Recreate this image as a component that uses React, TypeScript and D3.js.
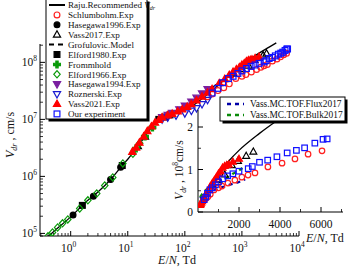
import * as d3 from "d3";

// ---- data (E/N in Td, drift velocity in cm/s) ----
const rajuE = [0.3, 0.5, 1, 2, 3, 5, 8, 10, 15, 20, 30, 40, 60, 80, 100, 150, 200, 300, 500, 700, 1000, 1500, 2000, 3000, 4000];
const rajuV = [6.8e4, 1.07e5, 1.95e5, 3.8e5, 5.3e5, 8.8e5, 1.55e6, 2.0e6, 3.4e6, 5.0e6, 8.5e6, 1.05e7, 1.2e7, 1.35e7, 1.5e7, 1.85e7, 2.3e7, 3.2e7, 5.0e7, 6.6e7, 9.0e7, 1.2e8, 1.45e8, 1.85e8, 2.2e8];

const grofE = [100, 150, 200, 300, 450, 700];
const grofV = [1.6e7, 2.05e7, 2.6e7, 3.6e7, 5.0e7, 6.8e7];

const schlumE = [250, 300, 380, 480, 600, 780, 1000, 1170, 1460, 1800, 2140, 2440, 2780, 3410, 4100, 4730, 5370, 6050];
const schlumV = [2.5e7, 2.8e7, 3.2e7, 3.6e7, 4.2e7, 5.2e7, 5.7e7, 6.1e7, 6.8e7, 7.5e7, 8.2e7, 8.7e7, 9.2e7, 1.06e8, 1.15e8, 1.25e8, 1.36e8, 1.44e8];

const hase96E = [1.1, 2.5, 5.0, 7.5];
const hase96V = [2.1e5, 4.5e5, 8.8e5, 1.45e6];

const vass17E = [15, 20, 700, 1000, 1300, 1650, 1950, 2350, 2700];
const vass17V = [3.4e6, 5.0e6, 6.4e7, 7.6e7, 8.8e7, 1.1e8, 1.2e8, 1.32e8, 1.42e8];

const elford80E = [1.6, 8, 35, 45, 55];
const elford80V = [3.1e5, 1.55e6, 1.0e7, 1.1e7, 1.2e7];

const frommE = [14, 20, 27];
const frommV = [3.1e6, 5.0e6, 7.2e6];

const elford66E = [0.4, 0.48, 0.59, 0.72, 0.89, 1.44, 2.0, 2.86, 3.95, 5.46, 8.2, 12.3, 16.2];
const elford66V = [8.9e4, 1.04e5, 1.27e5, 1.5e5, 1.76e5, 2.74e5, 3.8e5, 5.0e5, 6.9e5, 9.6e5, 1.69e6, 2.5e6, 3.8e6];

const hase94E = [40, 50, 60, 80, 100, 130, 160, 200, 250];
const hase94V = [1.1e7, 1.2e7, 1.3e7, 1.5e7, 1.75e7, 2.05e7, 2.4e7, 2.85e7, 3.4e7];

const roznE = [40, 50, 70, 100, 130, 160, 200, 250];
const roznV = [1.0e7, 1.08e7, 1.17e7, 1.28e7, 1.42e7, 1.58e7, 1.85e7, 2.2e7];

const vass21E = [12, 14, 16, 19, 22, 26, 30, 35, 40, 50, 60, 75, 90, 110, 130, 160, 200, 250, 300, 400, 500, 600, 700, 800, 900, 1000, 1100, 1200, 1300, 1400, 1500, 1700, 2000];
const vass21V = [2.7e6, 3.2e6, 3.9e6, 5.0e6, 6.2e6, 7.5e6, 8.8e6, 9.8e6, 1.08e7, 1.18e7, 1.25e7, 1.38e7, 1.5e7, 1.65e7, 1.85e7, 2.15e7, 2.5e7, 2.95e7, 3.4e7, 4.3e7, 5.1e7, 6.0e7, 6.8e7, 7.5e7, 8.2e7, 9.0e7, 9.6e7, 1.04e8, 1.08e8, 1.1e8, 1.12e8, 1.18e8, 1.25e8];

const oursE = [300, 380, 460, 580, 700, 850, 1000, 1200, 1450, 1700, 2000, 2450, 2650, 3000, 3400, 3850, 4350, 4800, 5200, 5700, 6100, 6300];
const oursV = [2.9e7, 3.5e7, 4.4e7, 5.2e7, 5.7e7, 6.4e7, 7.1e7, 7.8e7, 8.5e7, 9.0e7, 9.6e7, 1.02e8, 1.07e8, 1.17e8, 1.22e8, 1.3e8, 1.39e8, 1.45e8, 1.51e8, 1.62e8, 1.71e8, 1.72e8];

const fluxE = [100, 300, 500, 800, 1000, 1300, 1600, 1900, 2300];
const fluxV = [3.2e7, 4.0e7, 4.6e7, 5.2e7, 5.6e7, 6.0e7, 6.5e7, 6.9e7, 7.7e7];

const bulkE = [100, 300, 500, 800, 1100, 1400, 1700, 2000, 2300];
const bulkV = [3.5e7, 4.8e7, 5.6e7, 6.4e7, 7.2e7, 8.0e7, 9.0e7, 9.8e7, 1.08e8];

const xTickExp = [0, 1, 2, 3, 4];
const yTickExp = [5, 6, 7, 8];
const insetXTicks = [2000, 4000, 6000];
const insetYTicks = [0, 1, 2];

type Kind = "circle" | "square" | "triUp" | "triDown" | "diamond" | "cross";
interface Series {
  label: string;
  E: number[];
  V: number[];
  kind: Kind;
  color: string;
  filled: boolean;
  inset: boolean;
}

const series: Series[] = [
  { label: "Schlumbohm.Exp", E: schlumE, V: schlumV, kind: "circle", color: "#ff2020", filled: false, inset: true },
  { label: "Hasegawa1996.Exp", E: hase96E, V: hase96V, kind: "circle", color: "#000", filled: true, inset: false },
  { label: "Vass2017.Exp", E: vass17E, V: vass17V, kind: "triUp", color: "#000", filled: false, inset: true },
  { label: "Elford1980.Exp", E: elford80E, V: elford80V, kind: "square", color: "#000", filled: true, inset: false },
  { label: "Frommhold", E: frommE, V: frommV, kind: "cross", color: "#0a9a0a", filled: true, inset: false },
  { label: "Elford1966.Exp", E: elford66E, V: elford66V, kind: "diamond", color: "#0a9a0a", filled: false, inset: false },
  { label: "Hasegawa1994.Exp", E: hase94E, V: hase94V, kind: "triDown", color: "#7a1fa0", filled: true, inset: false },
  { label: "Roznerski.Exp", E: roznE, V: roznV, kind: "triDown", color: "#1a1ad0", filled: false, inset: false },
  { label: "Vass2021.Exp", E: vass21E, V: vass21V, kind: "triUp", color: "#ff0000", filled: true, inset: true },
  { label: "Our experiment", E: oursE, V: oursV, kind: "square", color: "#1010ff", filled: false, inset: true },
];

const FONT = "Liberation Serif, DejaVu Serif, serif";

function Marker({ kind, cx, cy, color, filled, s = 1 }: { kind: Kind; cx: number; cy: number; color: string; filled: boolean; s?: number }) {
  const fill = filled ? color : "none";
  const sw = 1.2;
  const t = `translate(${cx},${cy}) scale(${s})`;
  if (kind === "circle") return <circle cx={cx} cy={cy} r={2.9 * s} fill={fill} stroke={color} strokeWidth={sw} />;
  if (kind === "square") return <rect x={cx - 2.9 * s} y={cy - 2.9 * s} width={5.8 * s} height={5.8 * s} fill={fill} stroke={color} strokeWidth={sw} />;
  let d = "";
  if (kind === "triUp") d = "M0,-3.9L3.6,2.5L-3.6,2.5Z";
  if (kind === "triDown") d = "M0,3.9L3.6,-2.5L-3.6,-2.5Z";
  if (kind === "diamond") d = "M0,-3.6L3.2,0L0,3.6L-3.2,0Z";
  if (kind === "cross") d = d3.symbol(d3.symbolCross, 26)() || "";
  return <path d={d} transform={t} fill={fill} stroke={color} strokeWidth={sw / s} />;
}

function Pow({ x, y, exp, anchor }: { x: number; y: number; exp: number; anchor: string }) {
  return (
    <text x={x} y={y} textAnchor={anchor} fontFamily={FONT} fontSize={11.5} fill="#111">
      10<tspan fontSize={7.5} dy={-5}>{exp}</tspan>
    </text>
  );
}

export default function App() {
  const x = d3.scaleLog().domain([0.29, 1e4]).range([40, 299]);
  const y = d3.scaleLog().domain([9e4, 2.1e8]).range([236, 44]);
  const xi = d3.scaleLinear().domain([0, 7000]).range([198, 341.5]);
  const yi = d3.scaleLinear().domain([0, 2.4]).range([212, 110]);

  const mainLine = (E: number[], V: number[]) =>
    d3.line<number>().x((i) => x(E[i])).y((i) => y(V[i])).curve(d3.curveMonotoneX)(d3.range(E.length)) || "";
  const insetLine = (E: number[], V: number[]) =>
    d3.line<number>().x((i) => xi(E[i])).y((i) => yi(V[i] / 1e8)).curve(d3.curveMonotoneX)(d3.range(E.length)) || "";

  const xMinor: number[] = [];
  for (let k = -1; k < 4; k++) for (let m = 2; m <= 9; m++) {
    const v = m * Math.pow(10, k);
    if (v >= 0.29 && v <= 1e4) xMinor.push(v);
  }
  const yMinor: number[] = [];
  for (let k = 4; k < 9; k++) for (let m = 2; m <= 9; m++) {
    const v = m * Math.pow(10, k);
    if (v >= 9e4 && v <= 2.1e8) yMinor.push(v);
  }
  const insetXMinor = d3.range(1000, 7001, 2000);
  const insetYMinor = [0.5, 1.5];

  const legendRows = [
    { label: "Raju", line: "solid" },
    ...series.slice(0, 3).map((s) => ({ label: s.label, s })),
    { label: "Grofulovic.Model", line: "dash" },
    ...series.slice(3).map((s) => ({ label: s.label, s })),
  ] as { label: string; line?: string; s?: Series }[];

  return (
    <svg width={350} height={267} style={{ position: "absolute", left: 0, top: 0, background: "#fff" }}>
      <defs>
        <clipPath id="mainClip"><rect x={40} y={30} width={262} height={206} /></clipPath>
        <clipPath id="insetClip"><rect x={198} y={95} width={146} height={117} /></clipPath>
      </defs>

      {/* main axes */}
      <line x1={40} x2={299} y1={236} y2={236} stroke="#000" strokeWidth={1} />
      <line x1={40} x2={40} y1={44} y2={236} stroke="#000" strokeWidth={1} />
      {xTickExp.map((e) => (
        <g key={"xt" + e}>
          <line x1={x(Math.pow(10, e))} x2={x(Math.pow(10, e))} y1={236} y2={231} stroke="#000" />
          <Pow x={x(Math.pow(10, e)) - 2} y={252} exp={e} anchor="middle" />
        </g>
      ))}
      {xMinor.map((v) => (
        <line key={"xm" + v} x1={x(v)} x2={x(v)} y1={236} y2={233} stroke="#000" strokeWidth={0.8} />
      ))}
      {yTickExp.map((e) => (
        <g key={"yt" + e}>
          <line x1={40} x2={45} y1={y(Math.pow(10, e))} y2={y(Math.pow(10, e))} stroke="#000" />
          <Pow x={37} y={y(Math.pow(10, e)) + 4} exp={e} anchor="end" />
        </g>
      ))}
      {yMinor.map((v) => (
        <line key={"ym" + v} x1={40} x2={43} y1={y(v)} y2={y(v)} stroke="#000" strokeWidth={0.8} />
      ))}
      <text x={177} y={264} textAnchor="middle" fontFamily={FONT} fontSize={12} fill="#111">
        <tspan fontStyle="italic">E</tspan>/<tspan fontStyle="italic">N</tspan>, Td
      </text>
      <text transform="translate(14,135) rotate(-90)" textAnchor="middle" fontFamily={FONT} fontSize={12} fill="#111">
        <tspan fontStyle="italic">V</tspan><tspan fontStyle="italic" fontSize={8} dy={3}>dr</tspan><tspan dy={-3}> , cm/s</tspan>
      </text>

      {/* main data */}
      <g clipPath="url(#mainClip)">
        <path d={mainLine(rajuE, rajuV)} fill="none" stroke="#000" strokeWidth={1.3} />
        <path d={mainLine(grofE, grofV)} fill="none" stroke="#000" strokeWidth={1.2} strokeDasharray="4,3" />
        {series.map((s) =>
          s.E.map((e, i) => (
            <Marker key={s.label + i} kind={s.kind} cx={x(e)} cy={y(s.V[i])} color={s.color} filled={s.filled} />
          ))
        )}
      </g>

      {/* main legend */}
      <rect x={48.5} y={1.5} width={101} height={120} fill="#000" />
      <rect x={46} y={-1} width={101} height={120} fill="#fff" stroke="#000" strokeWidth={1} />
      {legendRows.map((r, i) => {
        const ly = 5 + i * 9.9;
        return (
          <g key={"lg" + i}>
            {r.line === "solid" && <line x1={49} x2={65} y1={ly} y2={ly} stroke="#000" strokeWidth={2} />}
            {r.line === "dash" && <line x1={49} x2={66} y1={ly} y2={ly} stroke="#000" strokeWidth={2} strokeDasharray="5,4" />}
            {r.s && <Marker kind={r.s.kind} cx={57} cy={ly} color={r.s.color} filled={r.s.filled} />}
            <text x={68} y={ly + 3.2} fontFamily={FONT} fontSize={9.1} fill="#111">
              {r.label === "Raju" ? (
                <>
                  Raju.Recommended <tspan fontStyle="italic">V</tspan>
                  <tspan fontStyle="italic" fontSize={6} dy={2}>dr</tspan>
                </>
              ) : (
                r.label
              )}
            </text>
          </g>
        );
      })}

      {/* inset axes */}
      <line x1={198} x2={343} y1={212} y2={212} stroke="#000" />
      <line x1={198} x2={198} y1={110} y2={212} stroke="#000" />
      {insetXTicks.map((v) => (
        <g key={"ixt" + v}>
          <line x1={xi(v)} x2={xi(v)} y1={212} y2={207} stroke="#000" />
          <text x={xi(v)} y={228} textAnchor="middle" fontFamily={FONT} fontSize={11.5} fill="#111">{v}</text>
        </g>
      ))}
      {insetXMinor.map((v) => (
        <line key={"ixm" + v} x1={xi(v)} x2={xi(v)} y1={212} y2={209} stroke="#000" strokeWidth={0.8} />
      ))}
      {insetYTicks.map((v) => (
        <g key={"iyt" + v}>
          <line x1={198} x2={203} y1={yi(v)} y2={yi(v)} stroke="#000" />
          <text x={193} y={yi(v) + 4} textAnchor="end" fontFamily={FONT} fontSize={11.5} fill="#111">{v}</text>
        </g>
      ))}
      {insetYMinor.map((v) => (
        <line key={"iym" + v} x1={198} x2={201} y1={yi(v)} y2={yi(v)} stroke="#000" strokeWidth={0.8} />
      ))}
      <text x={306} y={242} fontFamily={FONT} fontSize={12} fill="#111">
        <tspan fontStyle="italic">E</tspan>/<tspan fontStyle="italic">N</tspan>, Td
      </text>
      <text transform="translate(183,170) rotate(-90)" textAnchor="middle" fontFamily={FONT} fontSize={11.5} fill="#111">
        <tspan fontStyle="italic">V</tspan><tspan fontStyle="italic" fontSize={7.5} dy={3}>dr</tspan>
        <tspan dy={-3}> , 10</tspan><tspan fontSize={7.5} dy={-5}>8</tspan><tspan dy={5}>cm/s</tspan>
      </text>

      {/* inset data */}
      <g clipPath="url(#insetClip)">
        <path d={insetLine(rajuE.filter((e) => e >= 100), rajuV.filter((_, i) => rajuE[i] >= 100))} fill="none" stroke="#000" strokeWidth={1.3} />
        <path d={insetLine(fluxE, fluxV)} fill="none" stroke="#0000a8" strokeWidth={2.3} strokeDasharray="4,4" />
        <path d={insetLine(bulkE, bulkV)} fill="none" stroke="#0a8a0a" strokeWidth={2.3} strokeDasharray="4,4" />
        {series.filter((s) => s.inset).map((s) =>
          s.E.map((e, i) =>
            e >= 100 ? (
              <Marker key={"i" + s.label + i} kind={s.kind} cx={xi(e)} cy={yi(s.V[i] / 1e8)} color={s.color} filled={s.filled} s={0.95} />
            ) : null
          )
        )}
      </g>

      {/* inset legend */}
      <rect x={222.5} y={99.5} width={125} height={24} fill="#000" />
      <rect x={220} y={97} width={125} height={24} fill="#fff" stroke="#000" strokeWidth={1} />
      <line x1={227} x2={244} y1={104} y2={104} stroke="#0000a8" strokeWidth={2.3} strokeDasharray="4,4" />
      <text x={250} y={107.3} fontFamily={FONT} fontSize={9.4} fill="#111">Vass.MC.TOF.Flux2017</text>
      <line x1={227} x2={244} y1={115} y2={115} stroke="#0a8a0a" strokeWidth={2.3} strokeDasharray="4,4" />
      <text x={250} y={118.3} fontFamily={FONT} fontSize={9.4} fill="#111">Vass.MC.TOF.Bulk2017</text>
    </svg>
  );
}
